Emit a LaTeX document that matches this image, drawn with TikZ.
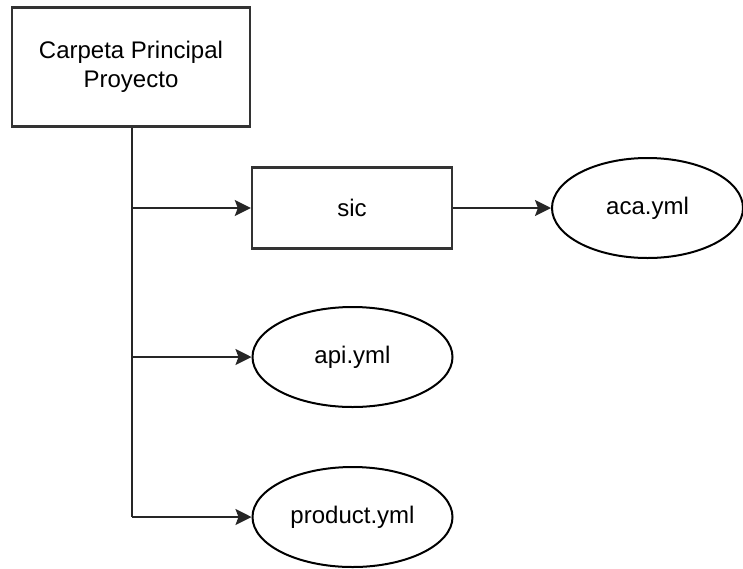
\documentclass[tikz,border=0pt]{standalone}
\usepackage{fontspec}
\setmainfont{Liberation Sans}
\usetikzlibrary{shapes.geometric, arrows.meta, positioning, calc}

\begin{document}
\begin{tikzpicture}[x=0.5pt, y=-0.5pt, font=\fontsize{12}{14.5}\selectfont, line width=1pt,
    caja/.style={rectangle, draw=black!80, line width=1.2pt, fill=white, align=center},
    archivo/.style={ellipse, draw=black, fill=white, inner sep=0pt},
    flecha/.style={-{Stealth[length=8pt, width=8pt, inset=1.5pt]}, draw=black!85}]
    \useasboundingbox (0,0) rectangle (743,568);

    % carpeta principal
    \node[caja, minimum width=119pt, minimum height=59.5pt] (principal) at (131,67) {Carpeta Principal\\Proyecto};

    % subcarpeta y archivos
    \node[caja, minimum width=100pt, minimum height=40.5pt] (sic) at (352,208) {sic};
    \node[archivo, minimum width=95.5pt, minimum height=50pt] (aca) at (647.5,208) {aca.yml};
    \node[archivo, minimum width=100pt, minimum height=50pt] (api) at (352.5,357) {api.yml};
    \node[archivo, minimum width=100pt, minimum height=50pt] (product) at (352.5,517) {product.yml};

    % ramas
    \coordinate (tronco) at ($(principal.south)+(1,0)$);
    \coordinate (rsic) at (tronco |- sic.west);
    \coordinate (rapi) at (tronco |- api.west);
    \coordinate (rproduct) at (tronco |- product.west);

    % conexiones
    \draw[draw=black!85] (tronco) -- (rproduct);
    \draw[flecha] (rproduct) -- (product.west);
    \draw[flecha] (rsic) -- (sic.west);
    \draw[flecha] (rapi) -- (api.west);
    \draw[flecha] (sic.east) -- (aca.west);
\end{tikzpicture}
\end{document}
